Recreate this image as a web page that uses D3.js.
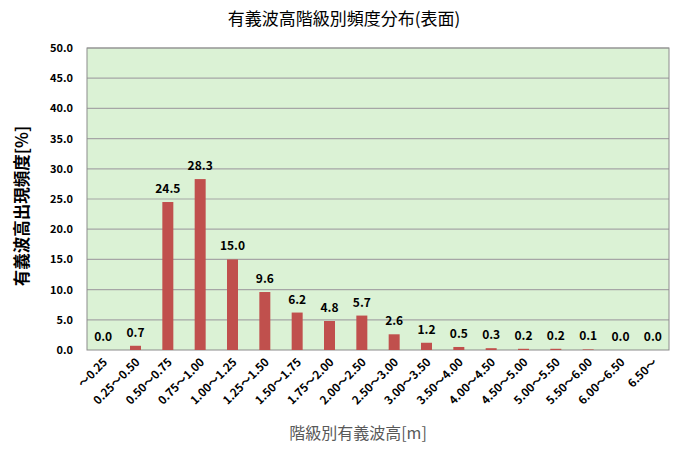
<!DOCTYPE html>
<html><head><meta charset="utf-8">
<script src="https://cdn.jsdelivr.net/npm/d3@7"></script>
<style>body{margin:0;background:#fff}svg{display:block}</style>
</head><body>
<script>
const categories = ["～0.25","0.25～0.50","0.50～0.75","0.75～1.00","1.00～1.25","1.25～1.50","1.50～1.75","1.75～2.00","2.00～2.50","2.50～3.00","3.00～3.50","3.50～4.00","4.00～4.50","4.50～5.00","5.00～5.50","5.50～6.00","6.00～6.50","6.50～"];
const values = [0.0,0.7,24.5,28.3,15.0,9.6,6.2,4.8,5.7,2.6,1.2,0.5,0.3,0.2,0.2,0.1,0.0,0.0];
const yTicks = [0,5,10,15,20,25,30,35,40,45,50];
const title = "有義波高階級別頻度分布(表面)";
const xTitle = "階級別有義波高[m]";
const yTitle = "有義波高出現頻度[%]";

const W=680,H=452;
const m={l:87,r:11,t:48,b:102};
const svg=d3.select("body").append("svg").attr("width",W).attr("height",H);
const font="'Noto Sans CJK JP','Noto Sans',sans-serif";
const x=d3.scaleBand().domain(categories).range([m.l,W-m.r]).paddingInner(0.66).paddingOuter(0.33);
const y=d3.scaleLinear().domain([0,50]).range([H-m.b,m.t]);

svg.append("rect").attr("x",m.l).attr("y",m.t).attr("width",W-m.l-m.r).attr("height",H-m.t-m.b).attr("fill","#DBF2D5");
svg.append("g").selectAll("line").data(yTicks.slice(1)).join("line")
  .attr("x1",m.l).attr("x2",W-m.r).attr("y1",d=>y(d)).attr("y2",d=>y(d))
  .attr("stroke","#A6A6A6").attr("stroke-width",1.2);
svg.append("rect").attr("x",m.l).attr("y",m.t).attr("width",W-m.l-m.r).attr("height",H-m.t-m.b).attr("fill","none").attr("stroke","#8C8C8C").attr("stroke-width",1);

svg.append("g").selectAll("rect").data(values).join("rect")
  .attr("x",(d,i)=>x(categories[i])).attr("width",x.bandwidth())
  .attr("y",d=>y(d)).attr("height",d=>y(0)-y(d)).attr("fill","#C0504D");

svg.append("g").selectAll("text").data(values).join("text")
  .attr("x",(d,i)=>x(categories[i])+x.bandwidth()/2).attr("y",d=>y(d)-9)
  .attr("text-anchor","middle").attr("font-family",font).attr("font-size",12).attr("font-weight","bold")
  .attr("fill","#000").text(d=>d.toFixed(1));

const ya=d3.axisLeft(y).tickValues(yTicks).tickFormat(d3.format(".1f")).tickSize(0).tickPadding(14);
const gy=svg.append("g").attr("transform",`translate(${m.l},0)`).call(ya);
gy.select(".domain").remove();
gy.selectAll("text").attr("font-family",font).attr("font-size",11).attr("font-weight","bold").attr("fill","#000");

const xa=d3.axisBottom(x).tickSize(0).tickPadding(0);
const gx=svg.append("g").attr("transform",`translate(0,${H-m.b})`).call(xa);
gx.select(".domain").remove();
gx.selectAll("text").attr("font-family",font).attr("font-size",11.5).attr("font-weight","bold").attr("fill","#000")
  .attr("text-anchor","end").attr("dy",null).attr("y",0)
  .attr("transform","translate(5,13) rotate(-45)");

svg.append("text").attr("x",344).attr("y",25).attr("text-anchor","middle").attr("font-family",font).attr("font-size",17).attr("fill","#000").text(title);
svg.append("text").attr("x",358).attr("y",439).attr("text-anchor","middle").attr("font-family",font).attr("font-size",16).attr("fill","#595959").text(xTitle);
svg.append("text").attr("transform","translate(28,206) rotate(-90)").attr("text-anchor","middle").attr("font-family",font).attr("font-size",16.5).attr("font-weight","bold").attr("fill","#000").text(yTitle);
</script>
</body></html>
